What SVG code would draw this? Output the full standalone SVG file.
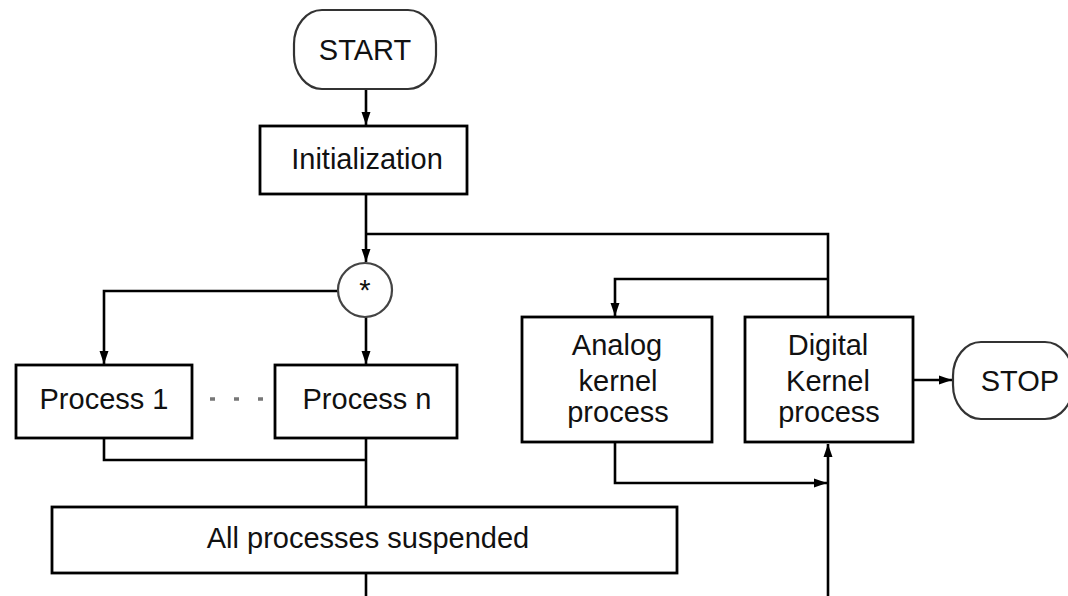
<svg xmlns="http://www.w3.org/2000/svg" width="1068" height="596" viewBox="0 0 1068 596">
<defs>
<marker id="arr" markerUnits="userSpaceOnUse" markerWidth="14" markerHeight="10" refX="13" refY="5" orient="auto">
<path d="M0,0.5 L13,5 L0,9.5 z" fill="#000"/>
</marker>
<style>
.box{fill:#fff;stroke:#000;stroke-width:2.8}
.term{fill:#fff;stroke:#333;stroke-width:2.2}
.c{fill:none;stroke:#000;stroke-width:2.6}
.t{font-family:"Liberation Sans",Arial,sans-serif;font-size:29px;fill:#111;text-anchor:middle}
</style>
</defs>
<rect width="1068" height="596" fill="#fff"/>
<g id="connectors">
<path class="c" d="M366,89 V125" marker-end="url(#arr)"/>
<path class="c" d="M366,194 V262" marker-end="url(#arr)"/>
<path class="c" d="M366,234 H828 V317"/>
<path class="c" d="M828,279 H615 V316" marker-end="url(#arr)"/>
<path class="c" d="M338,291 H104 V364" marker-end="url(#arr)"/>
<path class="c" d="M366,317 V364" marker-end="url(#arr)"/>
<path class="c" d="M104,438 V460 H366"/>
<path class="c" d="M366,438 V507"/>
<path class="c" d="M366,573 V596"/>
<path class="c" d="M615,442 V483 H827" marker-end="url(#arr)"/>
<path class="c" d="M828,596 V444" stroke-width="2" marker-end="url(#arr)"/>
<path class="c" d="M913,380 H952" marker-end="url(#arr)"/>
<line x1="210" y1="399" x2="266" y2="399" stroke="#777" stroke-width="3.5" stroke-dasharray="5 19"/>
</g>
<g id="start">
<rect class="term" x="294" y="10" width="142" height="79" rx="28" ry="34"/>
<text class="t" x="365" y="60" font-size="31">START</text>
</g>
<g id="init">
<rect class="box" x="260" y="126" width="207" height="68"/>
<text class="t" x="367" y="169">Initialization</text>
</g>
<g id="fork">
<circle cx="365" cy="290" r="27" fill="#fff" stroke="#444" stroke-width="2.2"/>
<text class="t" x="365" y="300" font-size="22">*</text>
</g>
<g id="process1">
<rect class="box" x="16" y="365" width="176" height="73"/>
<text class="t" x="104" y="409">Process 1</text>
</g>
<g id="processn">
<rect class="box" x="275" y="365" width="182" height="73"/>
<text class="t" x="367" y="409">Process n</text>
</g>
<g id="analog">
<rect class="box" x="522" y="317" width="190" height="125"/>
<text class="t" x="617" y="355">Analog</text>
<text class="t" x="618" y="391">kernel</text>
<text class="t" x="618" y="422">process</text>
</g>
<g id="digital">
<rect class="box" x="745" y="317" width="168" height="125"/>
<text class="t" x="828" y="355">Digital</text>
<text class="t" x="828" y="391">Kernel</text>
<text class="t" x="829" y="422">process</text>
</g>
<g id="stop">
<rect class="term" x="953" y="342" width="120" height="77" rx="28" ry="34"/>
<text class="t" x="1020" y="391" font-size="31">STOP</text>
</g>
<g id="suspended">
<rect class="box" x="52" y="507" width="625" height="66"/>
<text class="t" x="368" y="548">All processes suspended</text>
</g>
</svg>
